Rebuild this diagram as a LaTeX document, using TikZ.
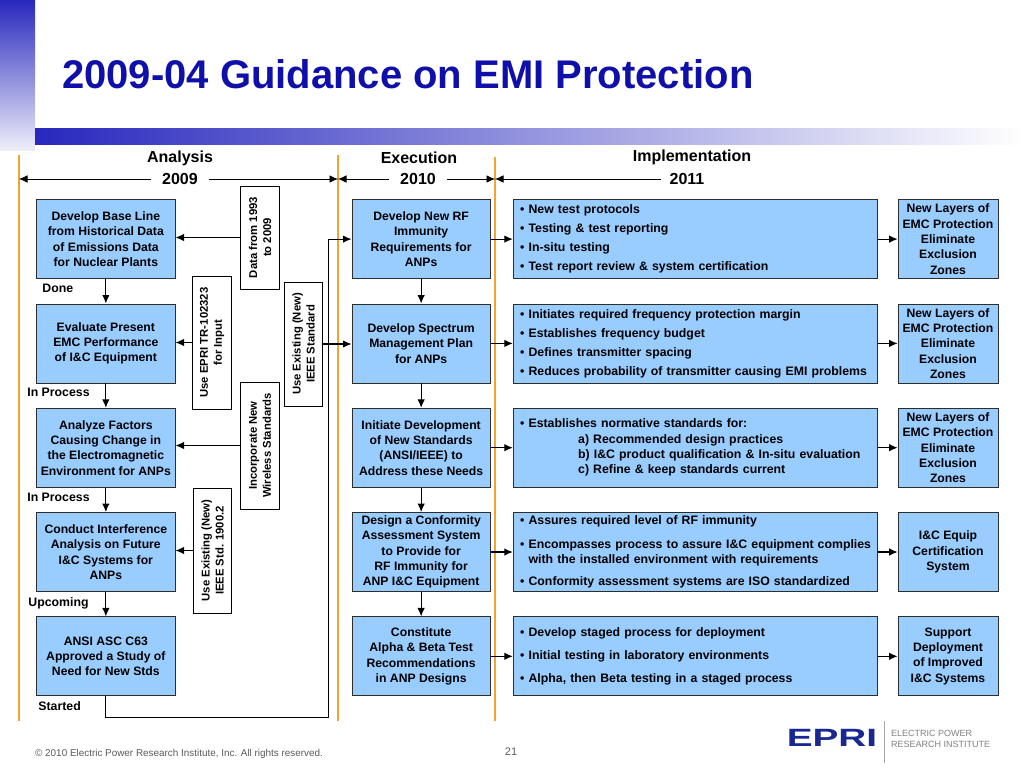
\documentclass[tikz,border=0pt]{standalone}
\usepackage{fontspec}
\setmainfont{Liberation Sans}
\usepackage{tikz}
\usetikzlibrary{arrows.meta,positioning,calc}
\definecolor{boxblue}{RGB}{153,204,255}
\definecolor{boxline}{RGB}{45,45,45}
\definecolor{orangeline}{RGB}{240,165,50}
\definecolor{titleblue}{RGB}{15,15,170}
\definecolor{barblue}{RGB}{40,40,190}
\definecolor{footgray}{RGB}{90,90,90}
\definecolor{logoblue}{RGB}{25,40,145}

\begin{document}
\begin{tikzpicture}[x=1pt,y=-1pt,
font=\bfseries,
every matrix/.style={column sep=20pt,row sep=24.5pt},
task/.style={draw=boxline,line width=0.8pt,fill=boxblue,minimum width=138.5pt,minimum height=79pt,inner xsep=0pt,inner ysep=2pt,align=center,font=\bfseries\fontsize{12.2}{15.3}\selectfont},
notes/.style={draw=boxline,line width=0.8pt,fill=boxblue,text width=350pt,minimum height=79pt,inner xsep=7pt,inner ysep=2pt,align=left,font=\bfseries\fontsize{12.3}{15.3}\selectfont},
result/.style={task,minimum width=100pt,inner ysep=1pt},
input/.style={draw,line width=0.9pt,fill=white,rotate=90,minimum height=38.5pt,inner sep=2pt,align=center,font=\bfseries\fontsize{11.3}{14}\selectfont},
status/.style={inner sep=0pt,font=\bfseries\fontsize{12.3}{14}\selectfont},
stage/.style={inner sep=0pt,font=\bfseries\fontsize{16}{19}\selectfont},
year/.style={stage,inner xsep=11pt},
divider/.style={draw=orangeline,line width=2.5pt},
to/.style={->,>={Latex[length=8.5pt,width=7.5pt]},line width=1.1pt}]

\useasboundingbox (0,0) rectangle (1024,768);

\shade[top color=barblue,bottom color=barblue!8] (0,0) rectangle (35,150);
\shade[left color=barblue,right color=white] (35,128) rectangle (1024,144);
\node[anchor=base west,inner sep=0pt,text=titleblue,font=\bfseries\fontsize{40}{48}\selectfont] (title) at (62,88) {2009-04 Guidance on EMI Protection};

\draw[divider] (19,155) -- (19,721);
\draw[divider] (338,155) -- (338,721);
\draw[divider] (495,157) -- (495,721);

\coordinate (a0) at (19,179);
\coordinate (a1) at (338,179);
\coordinate (a2) at (495,179);
\node[stage] (analysis) at (180,158) {Analysis};
\node[year] (y2009) at (180,179) {2009};
\node[stage] (execution) at (419,158) {Execution};
\node[year] (y2010) at (418,179) {2010};
\node[stage] (implementation) at (692,157) {Implementation};
\node[year,inner xsep=8pt] (y2011) at (687,179) {2011};
\draw[to,line width=0.8pt] (y2009) -- (a0);
\draw[to,line width=0.8pt] (y2009) -- (a1);
\draw[to,line width=0.8pt] (y2010) -- (a1);
\draw[to,line width=0.8pt] (y2010) -- (a2);
\draw[to,line width=0.8pt] (y2011) -- (a2);

\matrix (grid) [anchor=north west,inner sep=0pt] at (36,199) {
\node[task] (base) {Develop Base Line\\from Historical Data\\of Emissions Data\\for Nuclear Plants};
&[156pt] \node[task] (rf) {Develop New RF\\Immunity\\Requirements for\\ANPs};
&[2pt] \node[notes] (tests) {• New test protocols\\[3.7pt]
• Testing \& test reporting\\[3.7pt]
• In-situ testing\\[3.7pt]
• Test report review \& system certification};
& \node[result] (layers1) {New Layers of\\EMC Protection\\Eliminate\\Exclusion\\Zones}; \\
\node[task] (eval) {Evaluate Present\\EMC Performance\\of I\&C Equipment};
& \node[task] (spectrum) {Develop Spectrum\\Management Plan\\for ANPs};
& \node[notes] (budget) {• Initiates required frequency protection margin\\[3.7pt]
• Establishes frequency budget\\[3.7pt]
• Defines transmitter spacing\\[3.7pt]
\mbox{• Reduces probability of transmitter causing EMI problems}};
& \node[result] (layers2) {New Layers of\\EMC Protection\\Eliminate\\Exclusion\\Zones}; \\
\node[task] (factors) {Analyze Factors\\Causing Change in\\the Electromagnetic\\Environment for ANPs};
& \node[task] (stds) {Initiate Development\\of New Standards\\(ANSI/IEEE) to\\Address these Needs};
& \node[notes] (norms) {• Establishes normative standards for:\\
\hspace*{58pt}a) Recommended design practices\\
\hspace*{58pt}b) I\&C product qualification \& In-situ evaluation\\
\hspace*{58pt}c) Refine \& keep standards current};
& \node[result] (layers3) {New Layers of\\EMC Protection\\Eliminate\\Exclusion\\Zones}; \\
\node[task] (interf) {Conduct Interference\\Analysis on Future\\I\&C Systems for\\ANPs};
& \node[task] (conform) {Design a Conformity\\Assessment System\\to Provide for\\RF Immunity for\\ANP I\&C Equipment};
& \node[notes] (assure) {• Assures required level of RF immunity\\[8pt]
\mbox{• Encompasses process to assure I\&C equipment complies}\\
\phantom{• }with the installed environment with requirements\\[7pt]
• Conformity assessment systems are ISO standardized};
& \node[result] (certif) {I\&C Equip\\Certification\\System}; \\
\node[task] (ansi) {ANSI ASC C63\\Approved a Study of\\Need for New Stds};
& \node[task] (alpha) {Constitute\\Alpha \& Beta Test\\Recommendations\\in ANP Designs};
& \node[notes] (staged) {• Develop staged process for deployment\\[8pt]
• Initial testing in laboratory environments\\[8pt]
• Alpha, then Beta testing in a staged process};
& \node[result] (support) {Support\\Deployment\\of Improved\\I\&C Systems}; \\
};

\node[status, below right=5pt and 6pt of base.south west] (done) {Done};
\node[status, below right=5pt and -9pt of eval.south west] (inproc1) {In Process};
\node[status, below right=5pt and -9pt of factors.south west] (inproc2) {In Process};
\node[status, below right=5pt and -8pt of interf.south west] (upcoming) {Upcoming};
\node[status, below right=5pt and 2pt of ansi.south west] (started) {Started};

\node[input, minimum width=103pt] (data) at (260,237.5) {Data from 1993\\to 2009};
\node[input, minimum width=133pt] (epri) at (212,342.5) {Use EPRI TR-102323\\for Input};
\node[input, minimum width=124pt] (ieee) at (303.5,344) {Use Existing (New)\\IEEE Standard};
\node[input, minimum width=127pt] (wireless) at (260,445.5) {Incorporate New\\Wireless Standards};
\node[input, minimum width=125pt] (ieeestd) at (212.5,550.5) {Use Existing (New)\\IEEE Std. 1900.2};

\draw[to] (base) -- (eval);
\draw[to] (eval) -- (factors);
\draw[to] (factors) -- (interf);
\draw[to] (interf) -- (ansi);
\draw[to] (rf) -- (spectrum);
\draw[to] (spectrum) -- (stds);
\draw[to] (stds) -- (conform);
\draw[to] (conform) -- (alpha);
\draw[to] (rf) -- (tests);
\draw[to] (spectrum) -- (budget);
\draw[to] (stds) -- (norms);
\draw[to] (conform) -- (assure);
\draw[to] (alpha) -- (staged);
\draw[to] (tests) -- (layers1);
\draw[to] (budget) -- (layers2);
\draw[to] (norms) -- (layers3);
\draw[to] (assure) -- (certif);
\draw[to] (staged) -- (support);
\draw[to] (data.north) -- (data.north -| base.east);
\draw[to] (epri.north) -- (epri.north -| eval.east);
\draw[to] (wireless.north) -- (wireless.north -| factors.east);
\draw[to] (ieeestd.north) -- (ieeestd.north -| interf.east);
\draw[to] (ieee.south) -- (ieee.south -| spectrum.west);
\draw[to] (ansi.south) -- ++(0,21) -| ([xshift=-23pt]rf.west) -- (rf.west);

\node[anchor=base west,inner sep=0pt,text=footgray,font=\mdseries\fontsize{9.9}{11}\selectfont] (copyright) at (35,756) {© 2010 Electric Power Research Institute, Inc. All rights reserved.};
\node[inner sep=0pt,text=footgray,font=\mdseries\fontsize{11}{13}\selectfont] (page) at (511,752) {21};
\node[inner sep=0pt,text=logoblue,font=\bfseries\fontsize{25}{25}\selectfont] (epri) at (832,738) {\scalebox{1.55}[1]{EPRI}};
\draw[gray!70,line width=0.8pt] (884,721) -- (884,763);
\node[anchor=west,inner sep=0pt,text=gray,font=\mdseries\fontsize{9}{10}\selectfont] (electric) at (891,733) {ELECTRIC POWER};
\node[anchor=west,inner sep=0pt,text=gray,font=\mdseries\fontsize{9}{10}\selectfont] (research) at (891,744) {RESEARCH INSTITUTE};
\end{tikzpicture}
\end{document}
